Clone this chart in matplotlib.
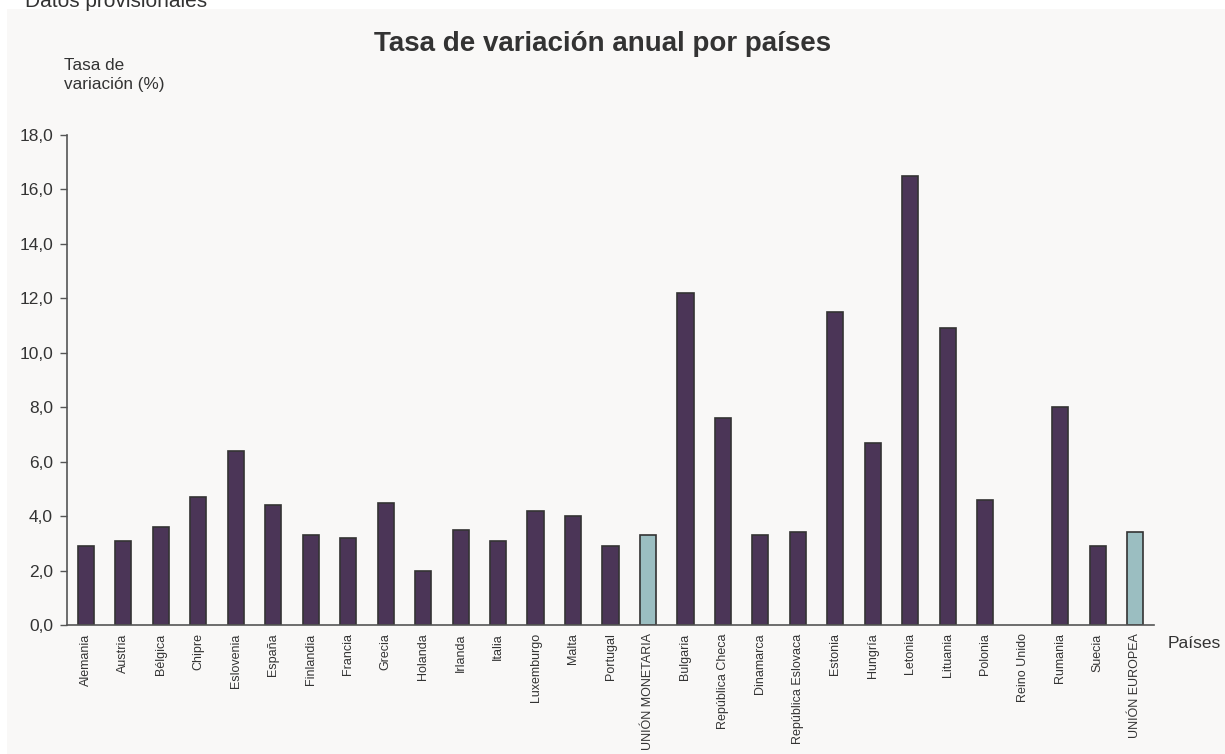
import numpy as np
import matplotlib
matplotlib.use('Agg')
import matplotlib.pyplot as plt
from matplotlib.patches import Rectangle

plt.rcParams['font.family'] = ['Liberation Sans', 'DejaVu Sans']

paises = ['Alemania', 'Austria', 'Bélgica', 'Chipre', 'Eslovenia', 'España',
          'Finlandia', 'Francia', 'Grecia', 'Holanda', 'Irlanda', 'Italia',
          'Luxemburgo', 'Malta', 'Portugal', 'UNIÓN MONETARIA', 'Bulgaria',
          'República Checa', 'Dinamarca', 'República Eslovaca', 'Estonia',
          'Hungría', 'Letonia', 'Lituania', 'Polonia', 'Reino Unido',
          'Rumania', 'Suecia', 'UNIÓN EUROPEA']
tasa = [2.9, 3.1, 3.6, 4.7, 6.4, 4.4,
        3.3, 3.2, 4.5, 2.0, 3.5, 3.1,
        4.2, 4.0, 2.9, 3.3, 12.2,
        7.6, 3.3, 3.4, 11.5,
        6.7, 16.5, 10.9, 4.6, np.nan,
        8.0, 2.9, 3.4]
agregados = ['UNIÓN MONETARIA', 'UNIÓN EUROPEA']
yticks = [0, 2, 4, 6, 8, 10, 12, 14, 16, 18]

bg = '#f9f8f7'
purple = '#4b3557'
lightblue = '#9bbec1'
txt = '#333333'

fig = plt.figure(figsize=(12.25, 7.54), dpi=100)
fig.patch.set_facecolor('white')
W, H = 1225, 754
fig.patches.append(Rectangle((7 / W, 0), 1 - 7 / W, 1 - 9 / H,
                             transform=fig.transFigure, facecolor=bg,
                             edgecolor='none', zorder=-10))
# header text, partly cut by the top edge as in the source
fig.text(25 / W, 1 - 7 / H, 'Datos provisionales', fontsize=15,
         color=txt, va='baseline', ha='left')

ax = fig.add_axes([67 / W, 1 - 625 / H, (1154 - 67) / W, (625 - 135) / H])
ax.set_facecolor(bg)

x = np.arange(len(paises))
colores = [lightblue if p in agregados else purple for p in paises]
ax.bar(x, tasa, width=0.43, color=colores, edgecolor='#333333', linewidth=1.2)

ax.set_xlim(-0.5, len(paises) - 0.5)
ax.set_ylim(0, 18)
ax.set_yticks(yticks)
ax.set_yticklabels([f'{v:.1f}'.replace('.', ',') for v in yticks],
                   fontsize=12.5, color=txt)
ax.set_xticks(x)
ax.set_xticklabels(paises, rotation=90, fontsize=9, color=txt)
ax.tick_params(axis='x', length=0, pad=6)
ax.tick_params(axis='y', length=5, width=1, color='#555555', pad=5)

for s in ['top', 'right']:
    ax.spines[s].set_visible(False)
for s in ['left', 'bottom']:
    ax.spines[s].set_color('#555555')
    ax.spines[s].set_linewidth(1.2)

fig.text(603 / W, 1 - 44 / H, 'Tasa de variación anual por países',
         fontsize=20, fontweight='bold', color=txt, ha='center', va='center')
fig.text(64 / W, 1 - 75 / H, 'Tasa de\nvariación (%)', fontsize=12.3,
         color=txt, ha='left', va='center', linespacing=1.35)
fig.text(1168 / W, 1 - 643 / H, 'Países', fontsize=12.5, color=txt,
         ha='left', va='center')

fig.savefig('out.png', dpi=100, facecolor=fig.get_facecolor())
